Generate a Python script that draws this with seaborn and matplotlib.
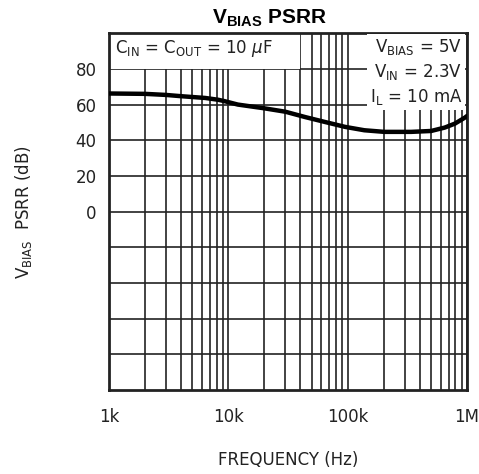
import numpy as np
import pandas as pd
import matplotlib
matplotlib.use('Agg')
import matplotlib.pyplot as plt
import seaborn as sns
from matplotlib.patches import Rectangle
from matplotlib.ticker import LogLocator, NullFormatter, FixedLocator

# data
freq_hz = [1e3, 2e3, 3e3, 4e3, 6.4e3, 8.2e3, 9.3e3, 1.2e4, 2e4, 3e4, 4.4e4, 6.4e4,
           9.5e4, 1.38e5, 2.03e5, 3.4e5, 5e5, 6.5e5, 7.9e5, 9.6e5, 1e6]
psrr_db = [66.2, 66.0, 65.4, 64.7, 63.7, 62.7, 61.9, 60.0, 57.9, 56.0, 53.0, 50.3,
           47.5, 45.6, 44.7, 44.7, 45.2, 47.1, 49.3, 52.7, 53.6]

x_ticks = [1e3, 1e4, 1e5, 1e6]
x_labels = ['1k', '10k', '100k', '1M']
y_ticks = [0, 20, 40, 60, 80]

sns.set_theme(style='white')
plt.rcParams['font.family'] = ['DejaVu Sans']
plt.rcParams['mathtext.fontset'] = 'custom'
plt.rcParams['mathtext.rm'] = 'DejaVu Sans'
plt.rcParams['mathtext.it'] = 'DejaVu Sans:italic'
plt.rcParams['mathtext.bf'] = 'Liberation Sans:bold'

df = pd.DataFrame({'freq': freq_hz, 'psrr': psrr_db})

fig = plt.figure(figsize=(4.79, 4.74), dpi=100)
ax = fig.add_axes([0.2276, 0.177, 0.7474, 0.753])

sns.lineplot(data=df, x='freq', y='psrr', color='black', linewidth=3.2, ax=ax, zorder=4)

ax.set_xscale('log')
ax.set_xlim(1e3, 1e6)
ax.set_ylim(-100, 100)

ax.xaxis.set_major_locator(FixedLocator(x_ticks))
ax.set_xticklabels(x_labels)
ax.xaxis.set_minor_locator(LogLocator(base=10, subs=np.arange(2, 10)))
ax.xaxis.set_minor_formatter(NullFormatter())
ax.yaxis.set_major_locator(FixedLocator(y_ticks))
ax.yaxis.set_minor_locator(FixedLocator([-80, -60, -40, -20]))

ax.set_axisbelow(True)
ax.grid(which='both', axis='both', color='#222222', linewidth=1.2)
ax.tick_params(which='both', length=0, labelsize=12, colors='#222222')
ax.tick_params(axis='x', pad=13)
ax.tick_params(axis='y', pad=9)
for sp in ax.spines.values():
    sp.set_linewidth(2)
    sp.set_color('#222222')

# white condition box top-left
ax.add_patch(Rectangle((1e3, 80), 3.9e4, 20, facecolor='white', edgecolor='none', zorder=2))
ax.text(1.13e3, 91.5, r'$\mathregular{C_{IN}}$ = $\mathregular{C_{OUT}}$ = 10 $\mu$F',
        fontsize=12, va='center', ha='left', color='#222222', zorder=5)

ax.text(0.987, 0.99,
        '$\\mathregular{V_{BIAS}}$ = 5V\n$\\mathregular{V_{IN}}$ = 2.3V\n$\\mathregular{I_{L}}$ = 10 mA',
        transform=ax.transAxes, fontsize=12, va='top', ha='right', color='#222222',
        linespacing=1.35, zorder=5,
        bbox=dict(facecolor='white', edgecolor='none', pad=2))

fig.text(0.563, 0.962, r'$\mathbf{V_{BIAS}}$ PSRR', fontsize=15, fontweight='bold',
         family='Liberation Sans', ha='center', va='center', color='black')
ax.set_xlabel('FREQUENCY (Hz)', fontsize=12, labelpad=18, color='#222222')
ax.set_ylabel(r'$\mathregular{V_{BIAS}}$  PSRR (dB)', fontsize=12, labelpad=30, color='#222222')

fig.savefig('out.png', dpi=100)
plt.close(fig)
